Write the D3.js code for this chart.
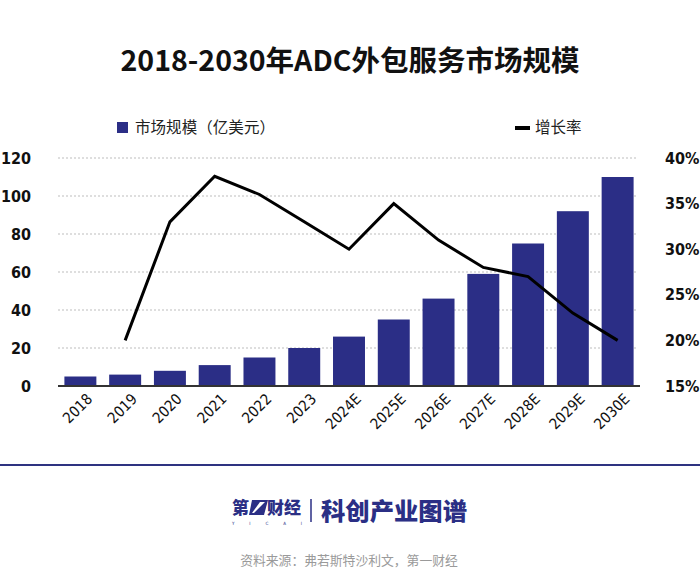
<!DOCTYPE html>
<html><head><meta charset="utf-8">
<script src="https://cdn.jsdelivr.net/npm/d3@7"></script>
<style>
body{margin:0;background:#fff;}
svg{display:block;}
.num{font-family:"Liberation Sans Narrow","DejaVu Sans Condensed","DejaVu Sans",sans-serif;font-stretch:condensed;}
.cjk{font-family:"Noto Sans CJK SC","Noto Sans",sans-serif;}
</style></head>
<body>
<svg id="chart" width="700" height="582"></svg>
<script>
const categories = ["2018","2019","2020","2021","2022","2023","2024E","2025E","2026E","2027E","2028E","2029E","2030E"];
const marketSize = [5,6,8,11,15,20,26,35,46,59,75,92,110];
const growthRate = [null,20,33,38,36,33,30,35,31,28,27,23,20];
const leftTicks = [0,20,40,60,80,100,120];
const rightTicks = [15,20,25,30,35,40];
const title = "2018-2030年ADC外包服务市场规模";
const legendBar = "市场规模（亿美元）";
const legendLine = "增长率";
const source = "资料来源：弗若斯特沙利文，第一财经";

const svg = d3.select("#chart");
const barColor = "#2b2e86";

const x = d3.scaleBand().domain(categories).range([58, 640]).paddingInner(0.286).paddingOuter(0.143);
const yL = d3.scaleLinear().domain([0,120]).range([386,158]);
const yR = d3.scaleLinear().domain([15,40]).range([386,158]);

// title
svg.append("text").attr("class","cjk").attr("x",350).attr("y",71)
  .attr("text-anchor","middle").attr("font-size",28.5).attr("font-weight",700).attr("fill","#111")
  .text(title);

// legend
svg.append("rect").attr("x",117).attr("y",122).attr("width",11).attr("height",11).attr("fill",barColor);
svg.append("text").attr("class","cjk").attr("x",135).attr("y",133).attr("font-size",15.5).attr("fill","#222")
  .attr("textLength",140).attr("lengthAdjust","spacing").text(legendBar);
svg.append("line").attr("x1",515).attr("x2",530).attr("y1",128).attr("y2",128).attr("stroke","#000").attr("stroke-width",4);
svg.append("text").attr("class","cjk").attr("x",535).attr("y",133).attr("font-size",15.5).attr("fill","#222").text(legendLine);

// gridlines
svg.append("g").selectAll("line").data(leftTicks.filter(d=>d>0)).join("line")
  .attr("x1",58).attr("x2",637).attr("y1",d=>yL(d)).attr("y2",d=>yL(d))
  .attr("stroke","#bdbdbd").attr("stroke-width",1).attr("stroke-dasharray","2,2");

// left axis
const axL = svg.append("g").attr("transform","translate(31,0)")
  .call(d3.axisLeft(yL).tickValues(leftTicks).tickSize(0).tickPadding(0));
axL.select(".domain").remove();
axL.selectAll("text").attr("class","num").attr("font-size",16).attr("font-weight",700).attr("fill","#111");

// right axis
const axR = svg.append("g").attr("transform","translate(665,0)")
  .call(d3.axisRight(yR).tickValues(rightTicks).tickSize(0).tickPadding(0).tickFormat(d=>d+"%"));
axR.select(".domain").remove();
axR.selectAll("text").attr("class","num").attr("font-size",16).attr("font-weight",700).attr("fill","#111");

// bars
svg.append("g").selectAll("rect").data(categories).join("rect")
  .attr("x",d=>x(d)).attr("width",x.bandwidth())
  .attr("y",(d,i)=>yL(marketSize[i])).attr("height",(d,i)=>yL(0)-yL(marketSize[i]))
  .attr("fill",barColor);

// baseline / x axis
const axB = svg.append("g").attr("transform","translate(0,386)")
  .call(d3.axisBottom(x).tickSize(0).tickPadding(0));
axB.select(".domain").attr("stroke","#333").attr("stroke-width",2).attr("d","M58,0H640");
axB.selectAll("text").attr("class","num").attr("font-size",15).attr("fill","#111")
  .attr("text-anchor","end").attr("dy",null)
  .attr("transform","translate(13,14) rotate(-45)");

// line
const pts = categories.map((c,i)=>({c, v:growthRate[i]})).filter(d=>d.v!=null);
svg.append("path").datum(pts)
  .attr("d", d3.line().x(d=>x(d.c)+x.bandwidth()/2).y(d=>yR(d.v)))
  .attr("fill","none").attr("stroke","#000").attr("stroke-width",3).attr("stroke-linejoin","miter");

// separator
svg.append("line").attr("x1",0).attr("x2",700).attr("y1",465).attr("y2",465)
  .attr("stroke","#2e3280").attr("stroke-width",2);

// logo
const logo = svg.append("g");
const navy = "#2b2f85";
logo.append("text").attr("class","cjk").attr("x",232).attr("y",514).attr("font-size",17).attr("font-weight",900).attr("fill",navy).text("第");
logo.append("path").attr("d","M252,500 L268,500 L264,515 L249,515 Z").attr("fill",navy);
logo.append("path").attr("d","M260,502 L265,502 L254,513 L252,513 Z").attr("fill","#fff");
logo.append("text").attr("class","cjk").attr("x",267).attr("y",514).attr("font-size",17).attr("font-weight",900).attr("fill",navy).text("财经");
logo.append("text").attr("class","num").attr("x",232).attr("y",524.5).attr("font-size",4.5).attr("fill",navy)
  .attr("textLength",70).attr("lengthAdjust","spacing").text("Y I C A I");
logo.append("line").attr("x1",311).attr("x2",311).attr("y1",499).attr("y2",522).attr("stroke",navy).attr("stroke-width",1.5);
logo.append("text").attr("class","cjk").attr("x",321).attr("y",520).attr("font-size",24).attr("font-weight",900).attr("fill",navy)
  .attr("textLength",146).attr("lengthAdjust","spacingAndGlyphs").text("科创产业图谱");

// source
svg.append("text").attr("class","cjk").attr("x",349).attr("y",565).attr("text-anchor","middle")
  .attr("font-size",12.8).attr("fill","#9a9a9a").text(source);
</script>
</body></html>
